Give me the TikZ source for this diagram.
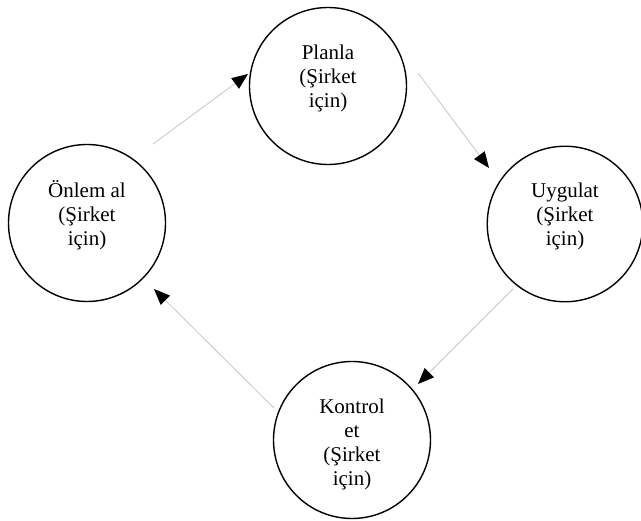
\documentclass[tikz,border=0pt]{standalone}
\usepackage{fontspec}
\setmainfont{Liberation Serif}
\usetikzlibrary{arrows.meta}
\tikzset{
  phase/.style={circle, draw=black, line width=1.4pt, minimum size=157pt, inner sep=0pt,
    font=\fontsize{21}{24}\selectfont},
  flow/.style={draw=black!22, line width=0.8pt,
    -{Triangle[length=16pt,width=13pt,color=black]}},
}
\newcommand{\phasetext}[1]{\parbox[t][86pt][t]{130pt}{\centering\strut #1}}
\begin{document}
\begin{tikzpicture}[x=1pt,y=-1pt]
  \useasboundingbox (0,0) rectangle (641,521);
  \fill[white] (0,0) rectangle (641,521);
  \node[phase] (plan) at (328,86) {\phasetext{Planla\\(Şirket\\için)}};
  \node[phase, minimum size=152pt] (uygula) at (565,224) {\phasetext{Uygulat\\(Şirket\\için)}};
  \node[phase] (kontrol) at (352,440) {\phasetext{Kontrol\\et\\(Şirket\\için)}};
  \node[phase] (onlem) at (87,223) {\phasetext{Önlem al\\(Şirket\\için)}};
  \coordinate (a1s) at (153,144); \coordinate (a1e) at (248,74);
  \coordinate (a2s) at (418,73);  \coordinate (a2e) at (489,168);
  \coordinate (a3s) at (513,289); \coordinate (a3e) at (418,384);
  \coordinate (a4s) at (274,408); \coordinate (a4e) at (154,289);
  \draw[flow] (a1s) -- (a1e);
  \draw[flow] (a2s) -- (a2e);
  \draw[flow] (a3s) -- (a3e);
  \draw[flow] (a4s) -- (a4e);
\end{tikzpicture}
\end{document}
